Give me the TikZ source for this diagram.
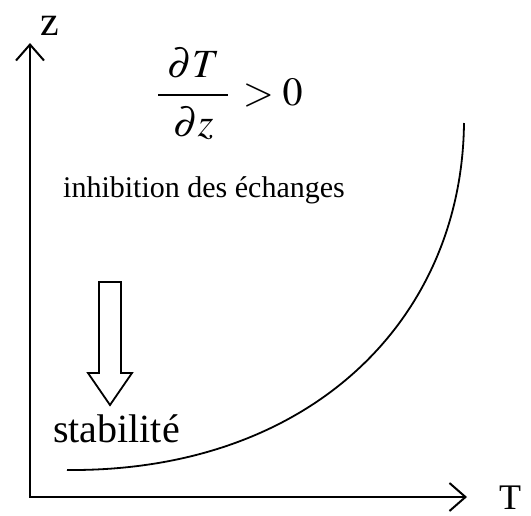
\documentclass[tikz,border=0pt]{standalone}
\usepackage{mathptmx}
\usepackage{fontspec}
\setmainfont{Liberation Serif}
\usetikzlibrary{arrows.meta}

\begin{document}
\begin{tikzpicture}[x=1pt,y=-1pt,
      axis/.style={line width=2.4pt,line join=miter,{Straight Barb[length=16pt,width=28pt,line width=2pt]}-{Straight Barb[length=16pt,width=28pt,line width=2pt]}},
      curve/.style={line width=1.8pt},
      hollow/.style={draw,line width=1.8pt,line join=miter,fill=white},
      lbl/.style={inner sep=0pt}]
    \useasboundingbox (0,0) rectangle (531,515);
    % axes
    \coordinate (O) at (30,497);
    \coordinate (ztip) at (30,43);
    \coordinate (Ttip) at (467,497);
    \draw[axis] (ztip) -- (O) -- (Ttip);
    \node[lbl,anchor=base,font=\fontsize{42}{46}\selectfont] (zlab) at (50,35) {z};
    \node[lbl,anchor=base west,font=\fontsize{36}{40}\selectfont] (Tlab) at (499,509) {T};
    % profile
    \coordinate (c0) at (67,470);
    \coordinate (c1) at (464,123);
    \draw[curve] (c0) .. controls (310,472) and (462,320) .. (c1);
    % texts
    \node[lbl,anchor=west,font=\fontsize{40}{44}\selectfont] (grad) at (157,94)
      {$\displaystyle\frac{\mkern4mu\partial T\rule[-8pt]{0pt}{8pt}\mkern4mu}{\rule{0pt}{36pt}\partial z}\mkern2mu>0$};
    \node[lbl,anchor=base west,font=\fontsize{30}{36}\selectfont] (inhib) at (63,197)
      {inhibition des échanges};
    \node[lbl,anchor=base west,font=\fontsize{40}{48}\selectfont] (stab) at (53,442)
      {stabilité};
    % hollow arrow
    \draw[hollow] (99,282) -- (121,282) -- (121,373) -- (132,373) -- (110,405)
      -- (88,373) -- (99,373) -- cycle;
  \end{tikzpicture}
\end{document}
